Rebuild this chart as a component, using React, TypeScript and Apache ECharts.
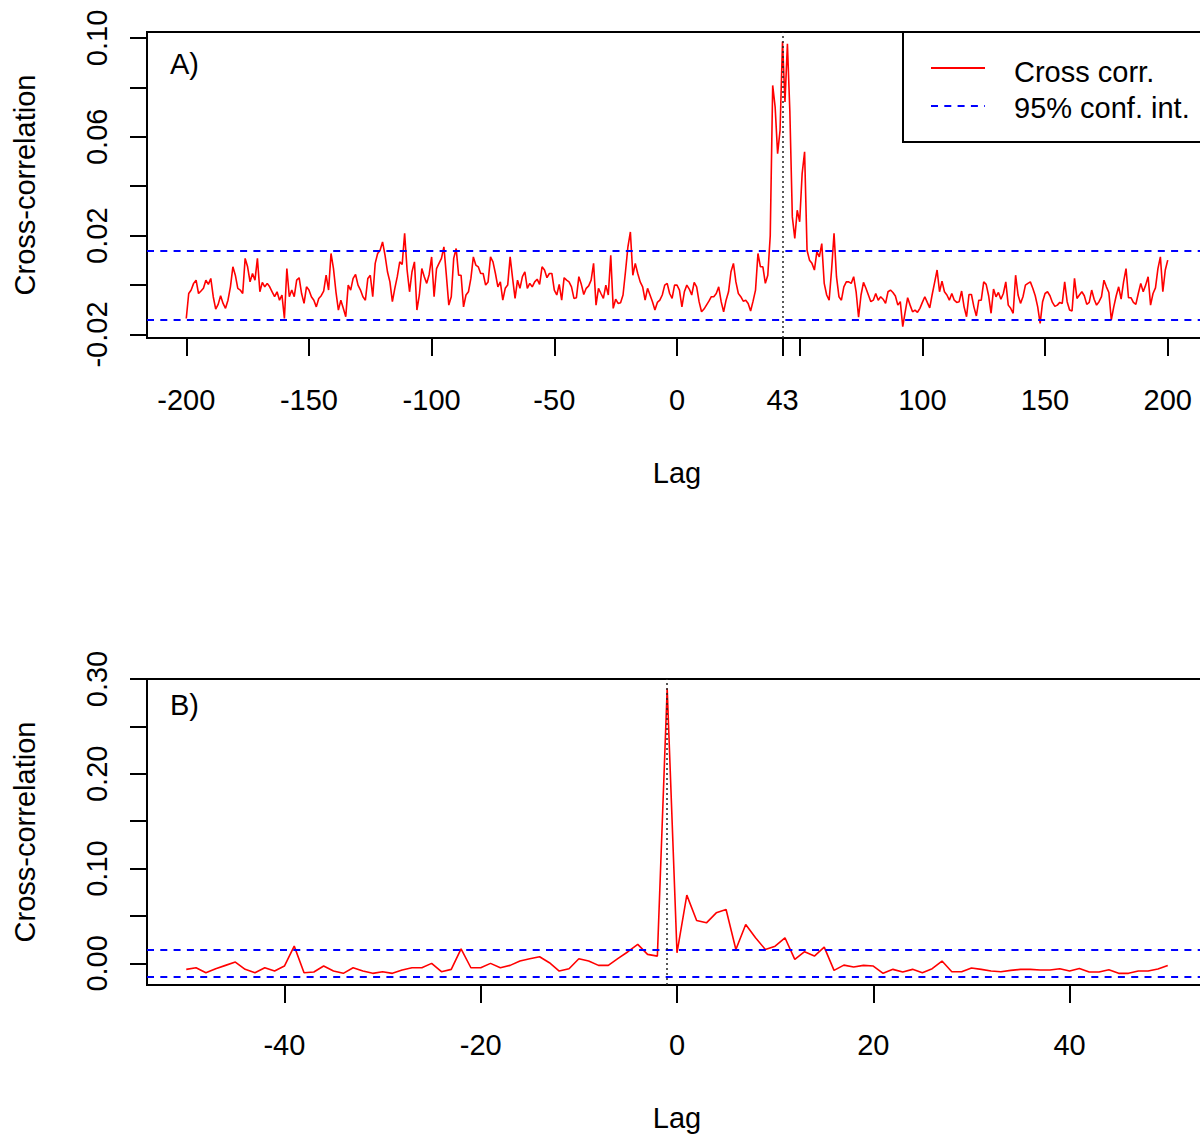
import React, { useEffect, useRef } from "react";
import * as echarts from "echarts";

// ---------- Panel A: lags -200..200, values in units of 0.001 ----------
const lagsA = Array.from({ length: 401 }, (_, i) => i - 200);
// lags -200 .. -121
const ccfA_m1 = [
  -13.5, -3.4, -2.0, 0.7, 2.0, -3.4, -2.4, -1.3, 2.0, 0.3,
  2.7, -4.7, -9.7, -7.8, -4.3, -7.4, -9.4, -6.1, -0.7, 7.4,
  4.0, -1.3, -2.0, -3.4, 10.8, 7.4, 1.3, 4.7, 2.0, 10.8,
  -2.7, 1.1, -0.7, 0.7, -0.7, -2.7, -4.7, -2.7, -6.1, -4.0,
  -13.5, 6.7, -4.7, -2.0, -4.7, 2.0, 3.0, -3.4, -7.4, -0.7,
  -2.0, -4.7, -6.1, -8.8, -5.4, -4.3, -2.4, 4.0, -2.0, 12.8,
  6.7, -2.7, -10.1, -6.1, -9.4, -12.8, 0, -2.0, 2.7, 4.3,
  0, -2.0, -4.7, -6.1, 2.7, 4.0, -4.7, 8.8, 12.8, 14.1,
];
// lags -120 .. -42
const ccfA_m2 = [
  17.5, 12.1, 5.4, 1.3, -6.7, -1.3, 3.4, 9.4, 8.4, 21.0,
  6.1, -2.7, 5.4, 9.4, -10.1, -4.0, 6.7, 3.4, 0.7, 4.3,
  11.4, -4.7, 6.7, 8.8, 10.8, 15.5, 4.0, -8.1, -4.7, 10.8,
  14.8, 4.0, 4.0, -8.8, -4.0, -2.7, 2.7, 11.4, 8.1, 7.4,
  4.7, 4.7, 0, 1.3, 11.4, 9.4, 4.7, -0.7, 1.3, -6.1,
  -1.3, 0, 11.4, 2.7, -5.4, 2.0, -1.3, 3.4, 5.4, -1.3,
  0.7, -0.7, 1.3, 2.4, 0.3, 7.4, 6.1, 3.0, 4.7, 4.7,
  -2.0, -4.0, 0.3, -6.1, 3.0, 2.0, 1.3, -0.7, -5.4,
];
// lags -41 .. 37
const ccfA_m3 = [
  -5.1, 3.4, 0.3, -3.8, -1.3, -0.3, 2.0, 8.8, -8.1, -1.3,
  -3.4, -5.4, 0, -4.0, 12.1, -9.4, -5.7, -7.4, -7.1, -4.0,
  5.4, 15.5, 21.5, 4.0, 8.8, 4.7, 1.3, -0.7, -6.1, -1.3,
  -4.0, -6.7, -10.1, -7.0, -6.1, -4.0, 0, 0.7, -3.4, -5.4,
  0, 0, -2.0, -8.8, -2.7, 0, -1.6, -4.0, 1.1, -0.7,
  -6.7, -10.8, -9.7, -8.1, -6.5, -4.7, -4.7, -3.4, -0.7, -6.7,
  -10.8, -6.1, -2.7, 5.4, 8.8, 1.3, -3.4, -4.7, -6.5, -6.1,
  -7.4, -10.5, -6.5, -2.0, 12.8, 7.4, 7.4, 0.7, 4.0,
];
// lags 38 .. 68
const ccfA_m4 = [
  20.0, 80.8, 72.0, 53.2, 62.6, 98.5, 74.1, 97.6, 70.0, 27.6,
  18.9, 30.3, 25.6, 45.1, 53.9, 14.1, 10.1, 8.8, 6.1, 13.5,
  11.4, 16.8, 0.7, -4.0, -6.1, 6.1, 21.0, 3.4, -4.7, -6.1,
  -0.7,
];
// lags 69 .. 135
const ccfA_m5 = [
  1.3, 1.3, 0.7, 3.4, -2.7, -13.0, -4.0, 1.1, -1.3, -4.0,
  -6.7, -6.1, -3.4, -6.1, -4.7, -5.7, -7.4, -2.7, -2.0, -3.0,
  -4.4, -8.1, -6.7, -16.8, -10.8, -5.1, -8.1, -10.8, -10.1, -11.0,
  -9.4, -7.0, -4.7, -7.0, -9.2, -3.8, 1.1, 6.1, -2.7, 1.6,
  -2.7, -4.0, -6.1, -3.4, -6.1, -7.0, -6.7, -2.4, -8.8, -12.8,
  -3.8, -3.8, -8.8, -12.5, -6.1, -6.1, 1.3, 0.3, -4.3, -11.4,
  -1.6, -4.7, -3.0, -5.7, -3.4, 1.3, -8.1,
];
// lags 136 .. 200
const ccfA_m6 = [
  -9.4, -11.4, 4.0, -4.0, -7.4, -4.7, 0, 0.7, 1.3, -1.3,
  -4.3, -8.8, -15.5, -6.7, -3.4, -2.7, -4.3, -7.0, -8.6, -8.1,
  -7.0, -7.4, 1.3, -6.7, -10.1, -10.5, 2.7, -5.4, -4.0, -2.7,
  -4.3, -7.8, -7.0, -2.0, -5.7, -8.1, -6.7, -4.7, 2.0, -0.7,
  -3.0, -14.1, -8.8, -4.3, -0.7, -5.7, 1.3, 6.7, -5.1, -5.1,
  -7.0, -7.8, -3.4, 0.7, -2.7, 0, 3.4, -8.1, -3.4, -1.1,
  6.7, 11.4, -2.7, 6.1, 10.1,
];
const ccfA_milli = [...ccfA_m1, ...ccfA_m2, ...ccfA_m3, ...ccfA_m4, ...ccfA_m5, ...ccfA_m6];
const confA = 0.0141;
const peakLagA = 43;

// ---------- Panel B: lags -50..50, values in units of 0.001 ----------
const lagsB = Array.from({ length: 101 }, (_, i) => i - 50);
const ccfB_milli = [
  -6.3, -4.6, -9.8, -5.6, -2.1, 1.4, -6.3, -9.8, -4.6, -8.1,
  -2.8, 18.2, -9.8, -9.1, -2.8, -8.1, -10.5, -4.6, -8.1, -10.5,
  -8.8, -10.5, -7.0, -4.6, -4.6, 0, -8.8, -6.3, 15.4, -4.6,
  -4.6, 0, -4.6, -2.1, 2.5, 4.9, 7.0, 0.7, -8.1, -5.6,
  4.9, 2.5, -2.1, -2.1, 5.3, 12.3, 20.0, 9.5, 7.7, 290.0,
  11.2, 72.0, 45.3, 42.8, 53.3, 56.8, 14.7, 41.1, 27.0, 14.7,
  18.2, 27.0, 4.2, 12.3, 7.7, 17.2, -7.4, -1.8, -3.9, -2.1,
  -2.8, -10.5, -6.3, -9.1, -6.3, -9.8, -5.6, 2.5, -8.8, -8.8,
  -4.9, -6.3, -8.1, -8.8, -7.4, -6.3, -6.3, -7.0, -7.0, -5.6,
  -8.1, -5.3, -9.1, -9.1, -6.7, -10.5, -10.5, -8.1, -8.1, -6.0,
  -2.1,
];
const confB = 0.0142;
const peakLagB = -1;

// ---------- Axis ticks / labels ----------
const xTicksA = [-200, -150, -100, -50, 0, 43, 50, 100, 150, 200];
const xLabelsA = [-200, -150, -100, -50, 0, 43, 100, 150, 200];
const yTicksA = [-0.02, 0, 0.02, 0.04, 0.06, 0.08, 0.1];
const yLabelsA = [-0.02, 0.02, 0.06, 0.1];
const xTicksB = [-40, -20, 0, 20, 40];
const yTicksB = [0, 0.05, 0.1, 0.15, 0.2, 0.25, 0.3];
const yLabelsB = [0, 0.1, 0.2, 0.3];

const legendItems = ["Cross corr.", "95% conf. int."];
const panelLabels = ["A)", "B)"];

const FONT = "'Liberation Sans', Arial, Helvetica, sans-serif";
const FS = 29;

function makeX(gridIndex: number, min: number, max: number, ticks: number[], labels: number[], margin: number, nameGap: number) {
  return {
    type: "value",
    gridIndex,
    min,
    max,
    position: "bottom",
    name: "Lag",
    nameLocation: "middle",
    nameGap,
    nameTextStyle: { fontSize: FS, color: "#000", fontFamily: FONT },
    axisLine: { show: false, onZero: false },
    splitLine: { show: false },
    axisTick: { show: true, inside: false, customValues: ticks, length: 18, lineStyle: { color: "#000", width: 2 } },
    axisLabel: {
      customValues: labels,
      margin,
      fontSize: FS,
      color: "#000",
      fontFamily: FONT,
      formatter: (v: number) => String(v),
    },
  };
}

function makeY(gridIndex: number, min: number, max: number, ticks: number[], labels: number[]) {
  return {
    type: "value",
    gridIndex,
    min,
    max,
    position: "left",
    name: "Cross-correlation",
    nameLocation: "middle",
    nameRotate: 90,
    nameGap: 108,
    nameTextStyle: { fontSize: FS, color: "#000", fontFamily: FONT },
    axisLine: { show: false, onZero: false },
    splitLine: { show: false },
    axisTick: { show: true, inside: false, customValues: ticks, length: 17, lineStyle: { color: "#000", width: 2 } },
    axisLabel: {
      customValues: labels,
      rotate: 90,
      margin: 36,
      fontSize: FS,
      color: "#000",
      fontFamily: FONT,
      formatter: (v: number) => v.toFixed(2),
    },
  };
}

function makeSeries(idx: number, lags: number[], milli: number[], conf: number, peak: number) {
  const dash = { color: "#0000ff", type: [7, 6.3], width: 2 };
  return {
    type: "line",
    xAxisIndex: idx,
    yAxisIndex: idx,
    data: lags.map((l, i) => [l, milli[i] / 1000]),
    showSymbol: false,
    symbol: "none",
    lineStyle: { color: "#ff0000", width: 1.6 },
    z: 3,
    markLine: {
      silent: true,
      symbol: "none",
      precision: 6,
      label: { show: false },
      animation: false,
      data: [
        { yAxis: conf, lineStyle: dash },
        { yAxis: -conf, lineStyle: dash },
        { xAxis: peak, lineStyle: { color: "#222", type: [2, 3], width: 1.5 } },
      ],
    },
  };
}

export default function App() {
  const ref = useRef<HTMLDivElement>(null);
  useEffect(() => {
    if (!ref.current) return;
    const chart = echarts.init(ref.current, undefined, { renderer: "svg" });
    const option = {
      animation: false,
      backgroundColor: "#fff",
      grid: [
        { left: 147, top: 32, width: 1060, height: 306, show: true, borderColor: "#000", borderWidth: 2, backgroundColor: "transparent" },
        { left: 147, top: 679, width: 1060, height: 306, show: true, borderColor: "#000", borderWidth: 2, backgroundColor: "transparent" },
      ],
      xAxis: [
        makeX(0, -216, 216, xTicksA, xLabelsA, 47, 120),
        makeX(1, -54, 54, xTicksB, xTicksB, 45, 118),
      ],
      yAxis: [
        makeY(0, -0.0214, 0.1024, yTicksA, yLabelsA),
        makeY(1, -0.0228, 0.3, yTicksB, yLabelsB),
      ],
      series: [
        makeSeries(0, lagsA, ccfA_milli, confA, peakLagA),
        makeSeries(1, lagsB, ccfB_milli, confB, peakLagB),
      ],
      graphic: [
        { type: "rect", z: 100, shape: { x: 903, y: 32, width: 310, height: 110 }, style: { fill: "#fff", stroke: "#000", lineWidth: 2 } },
        { type: "line", z: 101, shape: { x1: 931, y1: 68, x2: 985, y2: 68 }, style: { stroke: "#ff0000", lineWidth: 2 } },
        { type: "line", z: 101, shape: { x1: 931, y1: 106, x2: 985, y2: 106 }, style: { stroke: "#0000ff", lineWidth: 2, lineDash: [7, 6.3] } },
        { type: "text", z: 101, x: 1014, y: 72, style: { text: legendItems[0], fontSize: FS, fontFamily: FONT, fill: "#000", align: "left", verticalAlign: "middle" } },
        { type: "text", z: 101, x: 1014, y: 108, style: { text: legendItems[1], fontSize: FS, fontFamily: FONT, fill: "#000", align: "left", verticalAlign: "middle" } },
        { type: "text", z: 101, x: 170, y: 64, style: { text: panelLabels[0], fontSize: FS, fontFamily: FONT, fill: "#000", align: "left", verticalAlign: "middle" } },
        { type: "text", z: 101, x: 170, y: 705, style: { text: panelLabels[1], fontSize: FS, fontFamily: FONT, fill: "#000", align: "left", verticalAlign: "middle" } },
      ],
    };
    chart.setOption(option as any);
    return () => chart.dispose();
  }, []);
  return (
    <div style={{ position: "absolute", left: 0, top: 0, width: 1200, height: 1136, overflow: "hidden", background: "#fff" }}>
      <div ref={ref} style={{ position: "absolute", left: 0, top: 0, width: 1224, height: 1136 }} />
    </div>
  );
}
